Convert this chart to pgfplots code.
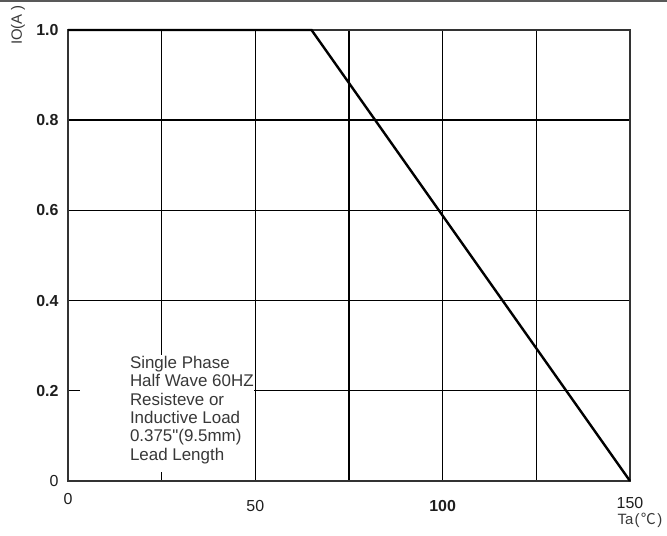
\documentclass[border=0pt]{standalone}
\usepackage{pgfplots}
\pgfplotsset{compat=1.18}
\usepackage{fontspec}
\setmainfont{Liberation Sans}
\newfontfamily\cjk{Noto Sans CJK SC}
\definecolor{txtgray}{HTML}{383838}
\definecolor{lblgray}{HTML}{1E1E1E}
\begin{document}
\begin{tikzpicture}
\useasboundingbox (0bp,0bp) rectangle (667bp,536bp);
\draw[line width=1.6bp, black!65] (0bp,535bp) -- (667bp,535bp);
\begin{axis}[
  at={(68bp,55bp)}, anchor=south west,
  width=562bp, height=451bp, scale only axis,
  xmin=0, xmax=150, ymin=0, ymax=1,
  xtick={0,25,50,75,100,125,150},
  ytick={0,0.2,0.4,0.6,0.8,1},
  xticklabels={\raisebox{7bp}{0},,50,,\textbf{100},,\raisebox{3bp}{150}},
  yticklabels={0\hspace{5bp},\textbf{0.2}\hspace{-6bp},\textbf{0.4},\textbf{0.6},\textbf{0.8},\textbf{1.0}},
  major tick length=0,
  grid=major,
  grid style={black, line width=1.4bp},
  axis line style={line width=1.6bp, black!80},
  clip=false,
  tick label style={font=\fontsize{16}{16}\selectfont, text=lblgray},
  xticklabel style={anchor=base, yshift=-30bp},
  yticklabel style={anchor=east, xshift=-6bp},
  xlabel={Ta\kern1bp(\kern1.5bp{\cjk ℃}\kern1.5bp)},
  xlabel style={anchor=east, at={(axis description cs:1.058,-0.0865)}, font=\fontsize{15}{15}\selectfont, text=txtgray, inner sep=0pt},
  ylabel={IO(A )},
  ylabel style={at={(axis description cs:-0.089,1.011)}, anchor=center, font=\fontsize{15}{15}\selectfont, text=txtgray},
]
\fill[white] (axis cs:3.3,0.02) rectangle (axis cs:49.6,0.28);
\node[anchor=north west, align=left, inner sep=0pt, text=txtgray,
      font=\fontsize{17}{18.4}\selectfont] at (axis cs:16.5,0.277)
  {Single Phase\\Half Wave 60HZ\\Resisteve or\\Inductive Load\\0.375\textquotedbl(9.5mm)\\Lead Length};
\addplot[black, line width=2.4bp] coordinates {(0,1) (65,1) (150,0)};
\end{axis}
\end{tikzpicture}
\end{document}
